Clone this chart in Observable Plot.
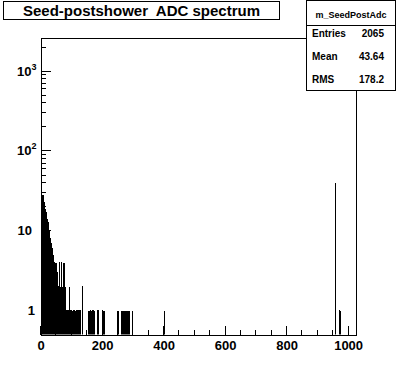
<!DOCTYPE html>
<html><head><meta charset="utf-8">
<script src="https://cdn.jsdelivr.net/npm/d3@7"></script>
<script src="https://cdn.jsdelivr.net/npm/@observablehq/plot@0.6"></script>
<style>
html,body{margin:0;padding:0;background:#fff;}
#chart{width:396px;height:372px;}
</style></head><body><div id="chart"></div>
<script>
const title = "Seed-postshower  ADC spectrum";
const statsName = "m_SeedPostAdc";
const statsLabels = ["Entries", "Mean", "RMS"];
const statsValues = ["2065", "43.64", "178.2"];
const nBins = 1024;
// counts for bins 0..81 (odd ADC codes are empty)
const lowCounts = [18,0,24,0,26,0,28,0,25,0,23,0,21,0,19,0,17,0,16,0,
  14,0,13,0,11,0,10,0,9,0,8,0,7,0,7,0,6,0,5,0,5,0,4,0,4,0,3,0,4,0,
  3,0,2,0,3,0,2,0,1,0,4,0,2,0,1,0,4,0,2,0,1,0,2,0,4,0,1,0,2,0,1,0];
const sparseBins = [82,84,85,87,89,90,92,93,95,96,98,100,101,103,105,106,108,110,111,113,115,117,118,120,122,123,125,127,128,
  135,153,155,156,158,160,161,163,165,167,168,170,172,183,185,187,199,202,205,250,263,266,270,273,276,279,283,286,296,400,957,970,972];
const sparseCounts = [1,1,1,1,1,1,1,2,1,1,1,1,1,1,1,1,1,1,1,1,1,1,1,1,1,1,1,1,1,
  2,1,1,1,1,1,1,1,1,1,1,1,1,1,1,1,1,1,1,1,1,1,1,1,1,1,1,1,1,1,40,1,1];
const xMajorTicks = [0, 200, 400, 600, 800, 1000];
const xMinorTicks = [50,100,150,250,300,350,450,500,550,650,700,750,850,900,950];
const yMajorTicks = [1, 10, 100, 1000];
const yLabelBase = ["1", "10", "10", "10"];
const yLabelExp = ["", "", "2", "3"];
const yMinorTicks = [0.6,0.7,0.8,0.9,2,3,4,5,6,7,8,9,20,30,40,50,60,70,80,90,200,300,400,500,600,700,800,900,2000];

const counts = new Array(nBins).fill(0);
lowCounts.forEach((c, i) => counts[i] = c);
sparseBins.forEach((b, i) => counts[b] = sparseCounts[i]);
const pts = counts.map((c, i) => ({x: i, y: c > 0 ? c : 0.01}));
pts.push({x: nBins, y: pts[nBins - 1].y});

const font = "'Liberation Sans', Arial, Helvetica, sans-serif";
const plot = Plot.plot({
  width: 396, height: 372,
  marginLeft: 40.5, marginRight: 40.5, marginTop: 37.5, marginBottom: 37.5,
  x: {domain: [0, nBins], label: null},
  y: {type: "log", domain: [0.5, 2650], axis: null},
  style: {fontFamily: font, fontSize: "13px", fontWeight: "bold", background: "white", color: "black", overflow: "visible"},
  marks: [
    Plot.line(pts, {x: "x", y: "y", curve: "step-after", stroke: "black", strokeWidth: 1, clip: true, shapeRendering: "crispEdges"}),
    Plot.frame({stroke: "black", shapeRendering: "crispEdges"}),
    Plot.axisX(xMajorTicks, {anchor: "bottom", label: null, tickSize: 0, tickPadding: 6, fontSize: 13, tickFormat: d => String(d)})
  ]
});
document.getElementById("chart").appendChild(plot);

const sx = plot.scale("x"), sy = plot.scale("y");
const svg = d3.select(plot);
const left = 40.5, bottom = 334.5;
const tg = svg.append("g").attr("stroke", "black").attr("shape-rendering", "crispEdges");
const snap = v => Math.round(v - 0.5) + 0.5;
xMajorTicks.forEach(v => { const X = snap(sx.apply(v)); tg.append("line").attr("x1", X).attr("x2", X).attr("y1", bottom).attr("y2", bottom - 9); });
xMinorTicks.forEach(v => { const X = snap(sx.apply(v)); tg.append("line").attr("x1", X).attr("x2", X).attr("y1", bottom).attr("y2", bottom - 4.5); });
yMajorTicks.forEach(v => { const Y = snap(sy.apply(v)); tg.append("line").attr("x1", left).attr("x2", left + 10).attr("y1", Y).attr("y2", Y); });
yMinorTicks.forEach(v => { const Y = snap(sy.apply(v)); tg.append("line").attr("x1", left).attr("x2", left + 5).attr("y1", Y).attr("y2", Y); });

// y labels with superscripts
const yl = svg.append("g").attr("font-family", font).attr("font-weight", "bold").attr("fill", "black");
yMajorTicks.forEach((v, i) => {
  const Y = sy.apply(v);
  const t = yl.append("text").attr("y", Y + 4.5).attr("font-size", 13).attr("text-anchor", "end");
  if (yLabelExp[i]) {
    t.attr("x", 36.5);
    t.append("tspan").text(yLabelBase[i]);
    t.append("tspan").attr("dy", -6).attr("font-size", 9).text(yLabelExp[i]);
  } else {
    t.attr("x", i === 0 ? 35 : 32).text(yLabelBase[i]);
  }
});

// title box
const tb = svg.append("g");
tb.append("rect").attr("x", 3.5).attr("y", 1.5).attr("width", 276).attr("height", 18)
  .attr("fill", "white").attr("stroke", "black").attr("shape-rendering", "crispEdges");
tb.append("text").attr("x", 141.5).attr("y", 15.5).attr("text-anchor", "middle")
  .attr("font-size", 15).attr("font-weight", "bold").attr("font-family", font).attr("fill", "black").text(title);

// stats box
const sb = svg.append("g");
sb.append("rect").attr("x", 306.5).attr("y", 0.5).attr("width", 89).attr("height", 90)
  .attr("fill", "white").attr("stroke", "black").attr("shape-rendering", "crispEdges");
sb.append("line").attr("x1", 306.5).attr("x2", 395.5).attr("y1", 25.5).attr("y2", 25.5)
  .attr("stroke", "black").attr("shape-rendering", "crispEdges");
sb.append("text").attr("x", 351).attr("y", 18).attr("text-anchor", "middle")
  .attr("font-size", 9).attr("font-weight", "bold").attr("font-family", font).attr("fill", "black").text(statsName);
const rowY = [37, 60, 83];
statsLabels.forEach((l, i) => {
  sb.append("text").attr("x", 312).attr("y", rowY[i]).attr("text-anchor", "start").attr("font-size", 10).attr("font-weight", "bold")
    .attr("font-family", font).attr("fill", "black").text(l);
  sb.append("text").attr("x", 384).attr("y", rowY[i]).attr("text-anchor", "end").attr("font-size", 10).attr("font-weight", "bold")
    .attr("font-family", font).attr("fill", "black").text(statsValues[i]);
});
</script></body></html>
